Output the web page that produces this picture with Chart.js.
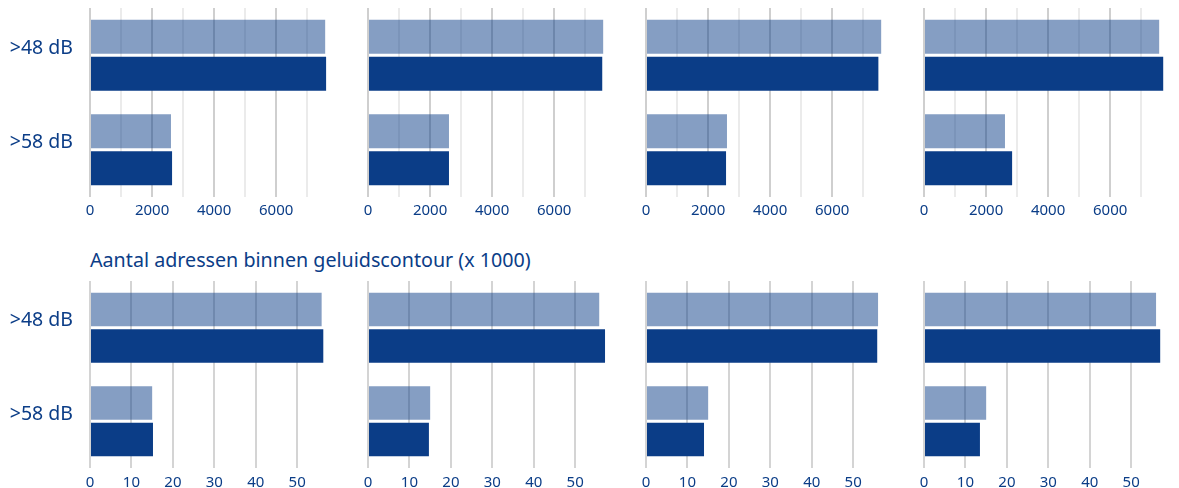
<!DOCTYPE html>
<html lang="nl">
<head>
<meta charset="utf-8">
<title>Geluidscontouren</title>
<script src="https://cdn.jsdelivr.net/npm/chart.js@4/dist/chart.umd.min.js"></script>
<style>
  html, body { margin: 0; padding: 0; background: #fff; overflow: hidden; }
  #wrap { position: relative; width: 1179px; height: 488px; overflow: hidden; }
  #wrap canvas { position: absolute; }
  .titel {
    position: absolute; left: 90px; top: 248px;
    font: 19.7px "Noto Sans", "Open Sans", sans-serif; line-height: 24px;
    color: #0b3d87; white-space: nowrap;
  }
</style>
</head>
<body>
<div id="wrap">
  <div class="titel">Aantal adressen binnen geluidscontour (x 1000)</div>
</div>
<script>
const categories = ['>48 dB', '>58 dB'];

// bovenste rij, per paneel [>48 dB, >58 dB]
const topLight = [[7580, 2610], [7580, 2610], [7580, 2610], [7580, 2610]];
const topDark = [[7610, 2645], [7550, 2610], [7490, 2580], [7710, 2840]];
const topGrid = [0, 1000, 2000, 3000, 4000, 5000, 6000, 7000];
const topTicks = [0, 2000, 4000, 6000];

// onderste rij, adressen x 1000
const bottomLight = [[55.9, 15.0], [55.8, 15.0], [56.0, 15.0], [56.0, 15.0]];
const bottomDark = [[56.3, 15.2], [57.2, 14.7], [55.8, 14.0], [57.0, 13.5]];
const bottomGrid = [0, 10, 20, 30, 40, 50];
const bottomTicks = [0, 10, 20, 30, 40, 50];

const blue = '#0b3d87';
const lightBlue = 'rgba(11, 61, 135, 0.5)';
const fontFamily = '"Noto Sans", "Open Sans", sans-serif';

function makePanel(col, top, height, light, dark, max, grid, labels, gridColor, tickPad) {
    const canvas = document.createElement('canvas');
    canvas.width = 340;
    canvas.height = height;
    canvas.style.left = (col * 278) + 'px';
    canvas.style.top = top + 'px';
    document.getElementById('wrap').appendChild(canvas);

    new Chart(canvas, {
        type: 'bar',
        data: {
            labels: categories,
            datasets: [
                { data: light, backgroundColor: lightBlue },
                { data: dark, backgroundColor: blue }
            ]
        },
        options: {
            indexAxis: 'y',
            responsive: false,
            animation: false,
            layout: { padding: { top: 8, right: 8, left: 0, bottom: 0 } },
            categoryPercentage: 0.78,
            barPercentage: 0.92,
            plugins: { legend: { display: false }, tooltip: { enabled: false } },
            scales: {
                x: {
                    min: 0,
                    max: max,
                    grid: {
                        drawTicks: false,
                        lineWidth: 2,
                        color: ctx => gridColor(ctx.tick ? ctx.tick.value : 0)
                    },
                    border: { display: false },
                    afterBuildTicks: s => { s.ticks = grid.map(v => ({ value: v })); },
                    ticks: {
                        autoSkip: false,
                        maxRotation: 0,
                        padding: tickPad,
                        color: blue,
                        font: { family: fontFamily, size: 15 },
                        callback: v => labels.includes(v) ? String(v) : ''
                    },
                    afterFit: s => {
                        s.height = 25;
                        s.paddingLeft = 0;
                        s.paddingRight = 0;
                    }
                },
                y: {
                    grid: { display: false, drawTicks: false },
                    border: { display: false },
                    ticks: {
                        padding: 17,
                        labelOffset: -7,
                        color: col === 0 ? blue : 'rgba(0,0,0,0)',
                        font: { family: fontFamily, size: 19.5 }
                    },
                    afterFit: s => {
                        s.width = 90;
                        s.paddingTop = 0;
                        s.paddingBottom = 0;
                    }
                }
            }
        }
    });
}

for (let i = 0; i < 4; i++) {
    makePanel(i, 0, 222, topLight[i], topDark[i], 7800, topGrid, topTicks,
        v => v % 2000 === 0 ? '#cfcfcf' : '#ebebeb', 5);
    makePanel(i, 273, 220, bottomLight[i], bottomDark[i], 58.4, bottomGrid, bottomTicks,
        () => '#d4d4d4', 6);
}
</script>
</body>
</html>
